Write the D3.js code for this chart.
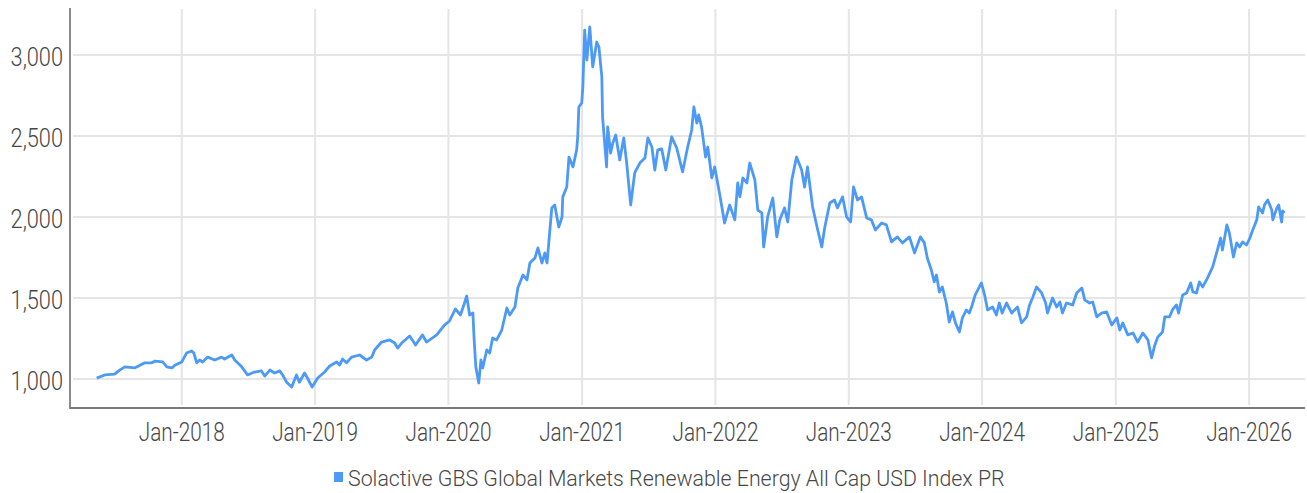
<!DOCTYPE html>
<html>
<head>
<meta charset="utf-8">
<script src="https://cdn.jsdelivr.net/npm/d3@7"></script>
<style>
  body { margin: 0; background: #fff; }
  text { font-family: Roboto, "Liberation Sans", sans-serif; font-weight: 300; fill: #474747; }
</style>
</head>
<body>
<div class="viz"></div>
<script>
const seriesName = "Solactive GBS Global Markets Renewable Energy All Cap USD Index PR"

const dates = [
  "2017-05-13","2017-06-04","2017-07-01","2017-07-15","2017-07-29","2017-08-25","2017-09-22","2017-10-11","2017-10-19","2017-11-10",
  "2017-11-21","2017-12-05","2017-12-13","2018-01-01","2018-01-14","2018-01-28","2018-02-03","2018-02-11","2018-02-19","2018-02-27",
  "2018-03-13","2018-04-01","2018-04-20","2018-04-28","2018-05-18","2018-05-26","2018-06-14","2018-06-30","2018-07-19","2018-08-07",
  "2018-08-16","2018-08-30","2018-09-12","2018-09-26","2018-10-04","2018-10-15","2018-10-29","2018-11-11","2018-11-19","2018-12-03",
  "2018-12-11","2018-12-24","2019-01-08","2019-01-27","2019-02-10","2019-03-01","2019-03-09","2019-03-17","2019-03-28","2019-04-11",
  "2019-05-03","2019-05-22","2019-06-05","2019-06-13","2019-07-02","2019-07-24","2019-08-07","2019-08-15","2019-08-26","2019-09-17",
  "2019-10-03","2019-10-22","2019-11-02","2019-11-30","2019-12-21","2020-01-04","2020-01-20","2020-02-03","2020-02-14","2020-02-20",
  "2020-02-28","2020-03-08","2020-03-11","2020-03-16","2020-03-24","2020-03-30","2020-04-04","2020-04-15","2020-04-23","2020-05-01",
  "2020-05-12","2020-05-26","2020-06-09","2020-06-17","2020-07-01","2020-07-09","2020-07-23","2020-08-03","2020-08-11","2020-08-25",
  "2020-09-02","2020-09-13","2020-09-21","2020-09-27","2020-10-10","2020-10-18","2020-10-29","2020-11-07","2020-11-09","2020-11-20",
  "2020-11-26","2020-12-07","2020-12-17","2020-12-20","2020-12-23","2020-12-31","2021-01-03","2021-01-08","2021-01-14","2021-01-22",
  "2021-01-30","2021-02-10","2021-02-16","2021-02-24","2021-02-26","2021-03-09","2021-03-12","2021-03-20","2021-03-26","2021-04-03",
  "2021-04-14","2021-04-25","2021-05-03","2021-05-14","2021-05-25","2021-06-08","2021-06-22","2021-06-30","2021-07-11","2021-07-19",
  "2021-07-27","2021-08-07","2021-08-18","2021-09-03","2021-09-17","2021-10-03","2021-10-17","2021-10-28","2021-11-03","2021-11-11",
  "2021-11-16","2021-11-24","2021-12-05","2021-12-11","2021-12-22","2021-12-30","2022-01-13","2022-01-26","2022-02-09","2022-02-23",
  "2022-03-03","2022-03-09","2022-03-17","2022-03-28","2022-04-05","2022-04-19","2022-04-27","2022-05-08","2022-05-13","2022-05-24",
  "2022-06-07","2022-06-18","2022-06-26","2022-07-09","2022-07-18","2022-07-29","2022-08-11","2022-08-25","2022-09-02","2022-09-10",
  "2022-09-24","2022-10-08","2022-10-19","2022-10-27","2022-11-10","2022-11-23","2022-12-01","2022-12-15","2022-12-26","2023-01-06",
  "2023-01-14","2023-01-25","2023-02-05","2023-02-19","2023-03-04","2023-03-15","2023-04-01","2023-04-14","2023-04-28","2023-05-14",
  "2023-05-28","2023-06-16","2023-06-30","2023-07-16","2023-07-27","2023-08-04","2023-08-15","2023-08-23","2023-08-29","2023-09-06",
  "2023-09-14","2023-09-25","2023-10-03","2023-10-12","2023-10-20","2023-10-31","2023-11-08","2023-11-19","2023-11-27","2023-12-05",
  "2023-12-13","2023-12-30","2024-01-08","2024-01-16","2024-01-30","2024-02-09","2024-02-17","2024-02-25","2024-03-08","2024-03-22",
  "2024-04-07","2024-04-18","2024-05-02","2024-05-10","2024-05-18","2024-05-29","2024-06-12","2024-06-23","2024-06-28","2024-07-12",
  "2024-07-23","2024-08-01","2024-08-08","2024-08-19","2024-09-05","2024-09-16","2024-09-30","2024-10-08","2024-10-21","2024-10-30",
  "2024-11-10","2024-11-23","2024-12-07","2024-12-21","2025-01-04","2025-01-12","2025-01-20","2025-02-03","2025-02-17","2025-03-02",
  "2025-03-16","2025-03-30","2025-04-09","2025-04-18","2025-04-26","2025-05-09","2025-05-15","2025-05-28","2025-06-05","2025-06-16",
  "2025-06-22","2025-07-03","2025-07-14","2025-07-25","2025-07-31","2025-08-10","2025-08-18","2025-08-27","2025-09-09","2025-09-23",
  "2025-10-04","2025-10-15","2025-10-20","2025-11-01","2025-11-08","2025-11-19","2025-11-28","2025-12-06","2025-12-14","2025-12-25",
  "2026-01-03","2026-01-11","2026-01-22","2026-01-27","2026-02-07","2026-02-12","2026-02-21","2026-03-04","2026-03-07","2026-03-18",
  "2026-03-23","2026-03-31","2026-04-03","2026-04-08"
]

const values = [
  1005,1025,1030,1055,1075,1068,1100,1100,1110,1105,
  1075,1068,1085,1105,1160,1173,1160,1100,1117,1105,
  1135,1117,1135,1123,1148,1117,1075,1025,1043,1050,
  1018,1055,1037,1050,1025,980,950,1025,980,1037,
  1006,950,1006,1043,1080,1105,1086,1123,1100,1135,
  1148,1117,1135,1179,1228,1241,1222,1191,1222,1265,
  1210,1272,1228,1272,1333,1358,1432,1395,1469,1512,
  1395,1407,1259,1074,975,1117,1068,1179,1160,1253,
  1241,1302,1438,1395,1444,1562,1642,1611,1716,1747,
  1809,1716,1778,1716,2056,2074,1938,2000,2124,2185,
  2370,2309,2414,2494,2679,2704,2802,3154,2969,3173,
  2926,3080,3049,2864,2617,2309,2556,2395,2457,2506,
  2352,2488,2333,2074,2272,2333,2364,2488,2432,2290,
  2414,2420,2290,2494,2426,2278,2432,2537,2679,2580,
  2630,2556,2370,2432,2241,2309,2136,1963,2074,1982,
  2210,2124,2241,2210,2333,2228,2043,2025,1815,2000,
  2117,1877,1982,2056,1969,2228,2370,2290,2185,2309,
  2062,1920,1815,1932,2086,2105,2056,2124,2000,1969,
  2185,2105,2124,1994,1982,1920,1963,1951,1846,1877,
  1840,1877,1778,1877,1840,1747,1673,1599,1642,1537,
  1568,1469,1352,1414,1346,1290,1377,1426,1407,1457,
  1518,1593,1518,1426,1444,1395,1469,1407,1469,1407,
  1444,1346,1383,1457,1500,1568,1531,1469,1407,1500,
  1444,1475,1407,1469,1457,1531,1562,1488,1469,1475,
  1383,1407,1414,1333,1377,1302,1346,1272,1284,1228,
  1284,1241,1130,1210,1259,1290,1383,1383,1426,1457,
  1407,1518,1531,1593,1537,1531,1599,1568,1623,1691,
  1778,1870,1796,1951,1901,1753,1840,1815,1846,1827,
  1870,1920,1982,2062,2025,2074,2105,2043,1982,2056,
  2074,1969,2037,2025
]

const yTicks = [1000, 1500, 2000, 2500, 3000]
const xTickYears = [2018, 2019, 2020, 2021, 2022, 2023, 2024, 2025, 2026]

const W = 1307, H = 493
const mLeft = 70, mRight = 1305, mTop = 8, mBottom = 407
const lineColor = "#4d9af6"
// the original face is condensed, so the text gets squeezed sideways
const squeezeY = 0.87, squeezeX = 0.83, squeezeLegend = 0.97

const parse = d3.timeParse("%Y-%m-%d")
const data = dates.map((d, i) => ({ date: parse(d), value: values[i] }))

const x = d3.scaleTime()
  .domain([parse("2017-03-01"), parse("2026-06-03")])
  .range([mLeft, mRight])

const y = d3.scaleLinear()
  .domain([827, 3290])
  .range([mBottom, mTop])

const svg = d3.select(".viz")
  .append("svg")
  .attr("width", W)
  .attr("height", H)

// grid
svg.append("g")
  .selectAll("line")
  .data(yTicks)
  .enter()
  .append("line")
  .attr("x1", mLeft + 3)
  .attr("x2", mRight)
  .attr("y1", d => y(d))
  .attr("y2", d => y(d))
  .attr("stroke", "#e5e5e5")
  .attr("stroke-width", 2)

const yearDates = xTickYears.map(yr => new Date(yr, 0, 1))
svg.append("g")
  .selectAll("line")
  .data(yearDates)
  .enter()
  .append("line")
  .attr("x1", d => x(d))
  .attr("x2", d => x(d))
  .attr("y1", mTop + 1)
  .attr("y2", mBottom - 2)
  .attr("stroke", "#e5e5e5")
  .attr("stroke-width", 2)

// axis lines
svg.append("line")
  .attr("x1", mLeft).attr("x2", mLeft)
  .attr("y1", mTop).attr("y2", mBottom + 2)
  .attr("stroke", "#8a8a8a").attr("stroke-width", 2)
svg.append("line")
  .attr("x1", mLeft).attr("x2", mRight)
  .attr("y1", mBottom + 1).attr("y2", mBottom + 1)
  .attr("stroke", "#7a7a7a").attr("stroke-width", 2)

// y labels
const fmt = d3.format(",")
svg.append("g")
  .selectAll("g")
  .data(yTicks)
  .enter()
  .append("g")
  .attr("transform", d => `translate(63,${y(d) + 11}) scale(${squeezeY},1)`)
  .append("text")
  .attr("text-anchor", "end")
  .style("font-size", "25px")
  .text(d => fmt(d))

// x labels
const fmtX = d3.timeFormat("%b-%Y")
svg.append("g")
  .selectAll("g")
  .data(yearDates)
  .enter()
  .append("g")
  .attr("transform", d => `translate(${x(d)},441) scale(${squeezeX},1)`)
  .append("text")
  .attr("text-anchor", "middle")
  .style("font-size", "25px")
  .text(d => fmtX(d))

// series
const line = d3.line()
  .x(d => x(d.date))
  .y(d => y(d.value))

svg.append("path")
  .datum(data)
  .attr("d", line)
  .attr("fill", "none")
  .attr("stroke", lineColor)
  .attr("stroke-width", 2.8)
  .attr("stroke-linejoin", "round")

// legend
const lg = svg.append("g").attr("transform", "translate(334,472)")
lg.append("rect")
  .attr("width", 9).attr("height", 10)
  .attr("fill", lineColor)
lg.append("g")
  .attr("transform", `translate(14,14) scale(${squeezeLegend},1)`)
  .append("text")
  .style("font-size", "22px")
  .text(seriesName)
</script>
</body>
</html>
